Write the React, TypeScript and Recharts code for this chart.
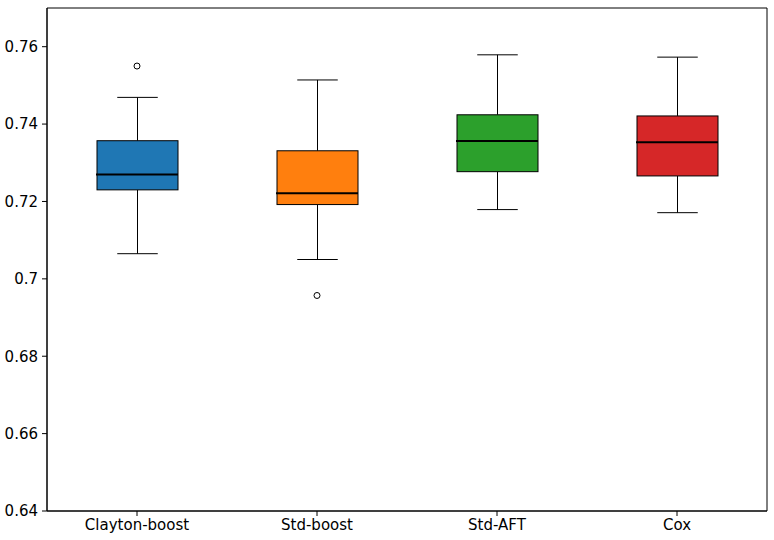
import { Bar, Cell, ComposedChart, ReferenceArea, Scatter, XAxis, YAxis } from 'recharts'

const models = ['Clayton-boost', 'Std-boost', 'Std-AFT', 'Cox']
const whiskerLow = [0.7065, 0.705, 0.7179, 0.7171]
const q1 = [0.723, 0.7192, 0.7277, 0.7266]
const median = [0.727, 0.7221, 0.7356, 0.7353]
const q3 = [0.7357, 0.7331, 0.7424, 0.7421]
const whiskerHigh = [0.7469, 0.7514, 0.7579, 0.7573]
const outliers: (number | null)[] = [0.755, 0.6957, null, null]
const boxColors = ['#1f77b4', '#ff7f0e', '#2ca02c', '#d62728']
const yTicks = [0.64, 0.66, 0.68, 0.7, 0.72, 0.74, 0.76]
const yDomain = [0.64, 0.77]

const data = models.map((name, i) => ({
  name,
  box: [q1[i], q3[i]],
  lo: whiskerLow[i],
  q1: q1[i],
  med: median[i],
  q3: q3[i],
  hi: whiskerHigh[i],
  outlier: outliers[i],
}))

const font = { fontFamily: 'DejaVu Sans', fontSize: 15, fill: '#000' }

// the bar is the q1..q3 box; whiskers and median are placed with the same px/unit ratio
function BoxShape(props: any) {
  const { x, y, width, height, payload, fill } = props
  const top = Math.min(y, y + height)
  const h = Math.abs(height)
  const k = h / (payload.q3 - payload.q1)
  const yOf = (v: number) => top + (payload.q3 - v) * k
  const cx = x + width / 2
  const cap = width / 4
  const yHi = yOf(payload.hi)
  const yLo = yOf(payload.lo)
  const yMed = yOf(payload.med)
  return (
    <g>
      <line x1={cx} x2={cx} y1={yHi} y2={top} stroke="#000" strokeWidth={1} />
      <line x1={cx} x2={cx} y1={top + h} y2={yLo} stroke="#000" strokeWidth={1} />
      <line x1={cx - cap} x2={cx + cap} y1={yHi} y2={yHi} stroke="#000" strokeWidth={1} />
      <line x1={cx - cap} x2={cx + cap} y1={yLo} y2={yLo} stroke="#000" strokeWidth={1} />
      <rect x={x} y={top} width={width} height={h} fill={fill} stroke="#000" strokeWidth={1} />
      <line x1={x - 1} x2={x + width} y1={yMed} y2={yMed} stroke="#000" strokeWidth={2} />
    </g>
  )
}

function OutlierDot(props: any) {
  const { cx, cy, payload } = props
  if (payload?.outlier == null) return null
  return <circle cx={cx} cy={cy} r={3} fill="#fff" stroke="#000" strokeWidth={1} />
}

export default function App() {
  return (
    <div style={{ position: 'absolute', left: 0, top: 0, background: '#fff' }}>
      <ComposedChart
        width={774}
        height={540}
        data={data}
        margin={{ top: 8, right: 7, left: 0, bottom: 0 }}
      >
        <XAxis
          dataKey="name"
          type="category"
          height={29}
          tick={font}
          tickSize={5}
          tickMargin={3}
          stroke="#000"
          interval={0}
        />
        <YAxis
          type="number"
          domain={yDomain}
          ticks={yTicks}
          width={47}
          tick={font}
          tickSize={5}
          tickMargin={4}
          stroke="#000"
          allowDataOverflow
        />
        <ReferenceArea y1={yDomain[0]} y2={yDomain[1]} fill="none" stroke="#000" strokeWidth={1} fillOpacity={0} />
        <Bar dataKey="box" barSize={81} shape={<BoxShape />} isAnimationActive={false}>
          {data.map((d, i) => (
            <Cell key={d.name} fill={boxColors[i]} />
          ))}
        </Bar>
        <Scatter dataKey="outlier" shape={<OutlierDot />} isAnimationActive={false} />
      </ComposedChart>
    </div>
  )
}
